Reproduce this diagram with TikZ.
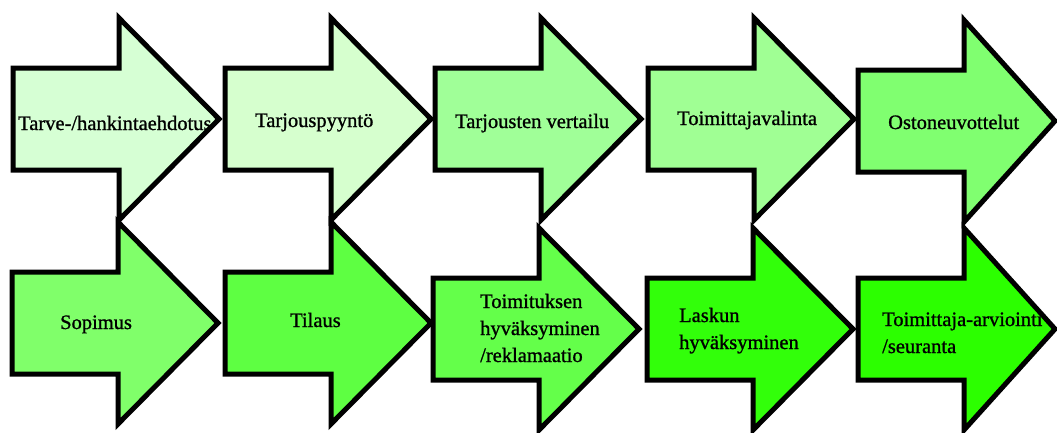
\documentclass[tikz,border=0pt]{standalone}
\usepackage{fontspec}
\newfontfamily\stepfont[FakeBold=1]{Liberation Serif}
\usepackage{tikz}

\definecolor{stepA}{RGB}{214,255,212}
\definecolor{stepB}{RGB}{214,255,206}
\definecolor{stepC}{RGB}{160,255,152}
\definecolor{stepD}{RGB}{160,255,148}
\definecolor{stepE}{RGB}{128,255,112}
\definecolor{stepF}{RGB}{128,255,106}
\definecolor{stepG}{RGB}{94,255,66}
\definecolor{stepH}{RGB}{100,255,74}
\definecolor{stepI}{RGB}{50,255,10}
\definecolor{stepJ}{RGB}{44,255,0}

\tikzset{
    stepshape/.style={draw=black, line width=5pt, line join=miter},
    steplabel/.style={anchor=base west, align=left, inner sep=0pt, black, font=\stepfont\fontsize{20.5}{27}\selectfont},
}

\begin{document}
\begin{tikzpicture}[x=1pt, y=-1pt]
        \useasboundingbox (0,0) rectangle (1057,432);

        % block arrows: left edge / centre line / head length / fill
        \foreach \lx/\cy/\hl/\col in {13/119/100/stepA, 225/119/100/stepB, 435/119/100/stepC, 648/119/100/stepD, 858/121/91/stepE,
                                      12/323/100/stepF, 225/323/100/stepG, 433/329/100/stepH, 647/329/100/stepI, 858/329/91/stepJ} {
            \draw[stepshape, fill=\col] (\lx,\cy-51) -- (\lx+106,\cy-51) -- (\lx+106,\cy-101) -- (\lx+106+\hl,\cy)
                -- (\lx+106,\cy+101) -- (\lx+106,\cy+51) -- (\lx,\cy+51) -- cycle;
        }

        % first row
        \node[steplabel] (tarve) at (18,130) {Tarve-/hankintaehdotus};
        \node[steplabel] (pyynto) at (255,127) {Tarjouspyyntö};
        \node[steplabel] (vertailu) at (455,128) {Tarjousten vertailu};
        \node[steplabel] (valinta) at (677,125) {Toimittajavalinta};
        \node[steplabel] (neuvottelu) at (888,129) {Ostoneuvottelut};

        % second row (base = last line)
        \node[steplabel] (sopimus) at (60,329) {Sopimus};
        \node[steplabel] (tilaus) at (290,327) {Tilaus};
        \node[steplabel] (toimitus) at (480,362) {Toimituksen\\hyväksyminen\\/reklamaatio};
        \node[steplabel] (lasku) at (679,349) {Laskun\\hyväksyminen};
        \node[steplabel] (arviointi) at (882,353) {Toimittaja-arviointi\\/seuranta};
    \end{tikzpicture}
\end{document}
